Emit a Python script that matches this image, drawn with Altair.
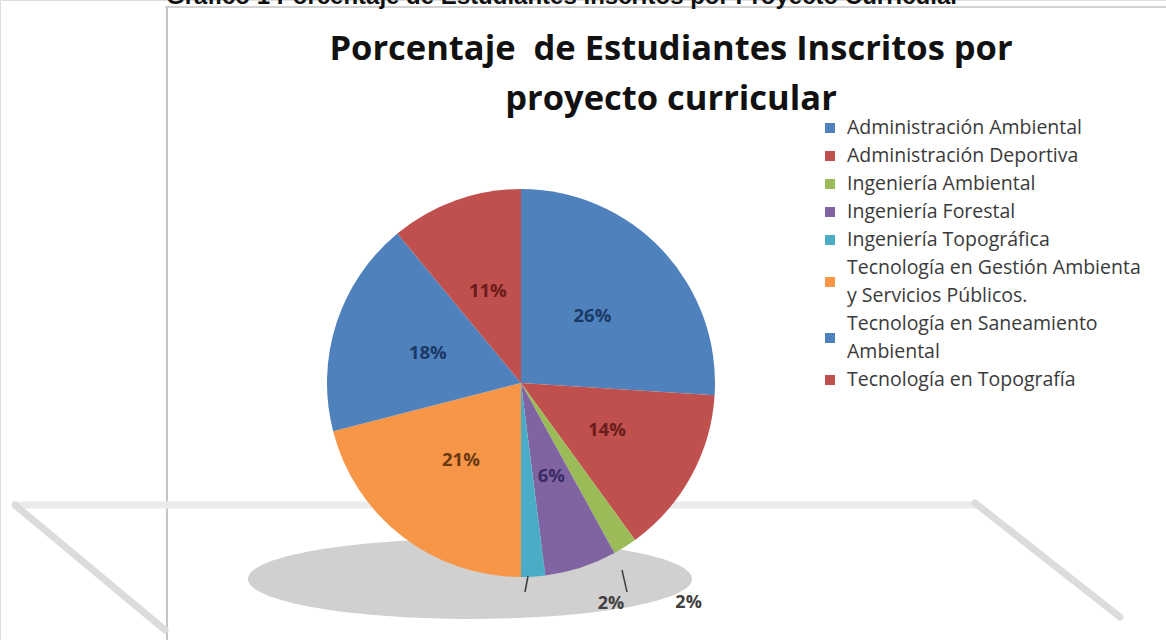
import altair as alt
import pandas as pd

# ---- data ----
categories = [
    "Administración Ambiental",
    "Administración Deportiva",
    "Ingeniería Ambiental",
    "Ingeniería Forestal",
    "Ingeniería Topográfica",
    "Tecnología en Gestión Ambienta y Servicios Públicos.",
    "Tecnología en Saneamiento Ambiental",
    "Tecnología en Topografía",
]
percentages = [26, 14, 2, 6, 2, 21, 18, 11]
slice_order = [1, 2, 3, 4, 5, 6, 7, 8]

# legend label wrapping as seen in the reference
legend_wraps = {
    "Tecnología en Gestión Ambienta y Servicios Públicos.": ["Tecnología en Gestión Ambienta", "y Servicios Públicos."],
    "Tecnología en Saneamiento Ambiental": ["Tecnología en Saneamiento", "Ambiental"],
}

palette = ["#4F81BD", "#C0504D", "#9BBB59", "#8064A2", "#4BACC6", "#F79646", "#4F81BD", "#C0504D"]
dark_palette = ["#1B3966", "#6A1C1A", "#4A5E22", "#3A2A62", "#1F5566", "#6A3A12", "#1B3966", "#6A1C1A"]

title_lines = "Porcentaje\u00a0 de Estudiantes Inscritos por\nproyecto curricular"
caption = "Gráfico 1 Porcentaje de Estudiantes Inscritos por Proyecto Curricular"

df = pd.DataFrame({"category": categories, "value": percentages, "order": slice_order})

# legend table: line-slot of first text line and of the symbol, derived from wrapping
leg_rows, slot = [], 0
for c in categories:
    lines = legend_wraps.get(c, [c])
    leg_rows.append({"category": c, "text": "\n".join(lines), "slot": slot,
                     "sym_slot": slot + (len(lines) - 1) / 2})
    slot += len(lines)
leg_df = pd.DataFrame(leg_rows)

W, H = 1166, 640
CX, CY, R = 521, 383, 194
FONT = "Open Sans"
LINE = 28
LEG_TOP = 128

color_scale = alt.Scale(domain=categories, range=palette)
base = alt.Chart(df)

# ---- decorations: frame, floor and shadow ----
deco = alt.Chart(pd.DataFrame({"k": [0]}))
frame_top = deco.mark_rule(color="#d2d2d2", strokeWidth=2).encode(
    x=alt.value(165), x2=alt.value(W), y=alt.value(7), y2=alt.value(7))
frame_left = deco.mark_rule(color="#c4c4c4", strokeWidth=2).encode(
    x=alt.value(167), x2=alt.value(167), y=alt.value(7), y2=alt.value(H))
floor_h = deco.mark_rule(color="#ebebeb", strokeWidth=7).encode(
    x=alt.value(13), x2=alt.value(977), y=alt.value(505), y2=alt.value(505))
floor_l = deco.mark_rule(color="#dcdcdc", strokeWidth=7, strokeCap="round").encode(
    x=alt.value(15), x2=alt.value(165), y=alt.value(505), y2=alt.value(630))
floor_r = deco.mark_rule(color="#dcdcdc", strokeWidth=7, strokeCap="round").encode(
    x=alt.value(975), x2=alt.value(1120), y=alt.value(503), y2=alt.value(617))
shadow = deco.mark_point(
    shape="M-1,0 A1,0.18 0 1,0 1,0 A1,0.18 0 1,0 -1,0 Z",
    filled=True, color="#d0d0d0", opacity=1, size=(2 * 222) ** 2,
).encode(x=alt.value(470), y=alt.value(579))

# ---- pie ----
pie = base.mark_arc(radius=R, stroke=None).encode(
    theta=alt.Theta("value:Q", stack=True),
    order=alt.Order("order:Q"),
    color=alt.Color("category:N", scale=color_scale, legend=None),
    x=alt.value(CX), y=alt.value(CY),
)

inside = base.transform_calculate(
    lbl="datum.value >= 5 ? datum.value + '%' : ''"
).mark_text(radius=98, font=FONT, fontSize=18.5, fontWeight="bold").encode(
    theta=alt.Theta("value:Q", stack=True),
    order=alt.Order("order:Q"),
    text="lbl:N",
    color=alt.Color("category:N", scale=alt.Scale(domain=categories, range=dark_palette), legend=None),
    x=alt.value(CX), y=alt.value(CY),
)

out_a = base.transform_calculate(
    lbl="datum.category == 'Ingeniería Ambiental' ? datum.value + '%' : ''"
).mark_text(radius=240, dx=39, dy=17, font=FONT, fontSize=18, fontWeight="bold", color="#404040").encode(
    theta=alt.Theta("value:Q", stack=True), order=alt.Order("order:Q"), text="lbl:N",
    x=alt.value(CX), y=alt.value(CY),
)
out_b = base.transform_calculate(
    lbl="datum.category == 'Ingeniería Topográfica' ? datum.value + '%' : ''"
).mark_text(radius=240, dx=75, dy=-19, font=FONT, fontSize=18, fontWeight="bold", color="#404040").encode(
    theta=alt.Theta("value:Q", stack=True), order=alt.Order("order:Q"), text="lbl:N",
    x=alt.value(CX), y=alt.value(CY),
)
lead1 = deco.mark_rule(color="#404040", strokeWidth=1.5).encode(
    x=alt.value(528), x2=alt.value(525), y=alt.value(576), y2=alt.value(592))
lead2 = deco.mark_rule(color="#404040", strokeWidth=1.5).encode(
    x=alt.value(622), x2=alt.value(627), y=alt.value(570), y2=alt.value(592))

# ---- legend (drawn as marks) ----
leg_scale = alt.Scale(domain=[0, 10], range=[LEG_TOP, LEG_TOP + 10 * LINE])
leg_sym = alt.Chart(leg_df).mark_square(size=100, opacity=1, filled=True).encode(
    x=alt.value(830), y=alt.Y("sym_slot:Q", scale=leg_scale, axis=None),
    color=alt.Color("category:N", scale=color_scale, legend=None),
)
leg_txt = alt.Chart(leg_df).mark_text(
    font=FONT, fontSize=19.5, color="#3a3a3a", align="left", baseline="middle",
    lineBreak="\n", lineHeight=LINE,
).encode(x=alt.value(847), y=alt.Y("slot:Q", scale=leg_scale, axis=None), text="text:N")

title = deco.mark_text(
    font=FONT, fontSize=34.5, fontWeight="bold", color="#111111",
    lineBreak="\n", lineHeight=50, baseline="middle", align="center",
).encode(x=alt.value(671), y=alt.value(50), text=alt.value(title_lines))

cap = deco.mark_text(
    font="Liberation Sans", fontSize=24, fontWeight="bold", color="#111111",
    align="left", baseline="alphabetic",
).encode(x=alt.value(166), y=alt.value(4), text=alt.value(caption))

chart = alt.layer(
    frame_top, frame_left, floor_h, floor_l, floor_r, shadow,
    pie, inside, out_a, out_b, lead1, lead2, leg_sym, leg_txt, title, cap,
).resolve_scale(color="independent").properties(
    width=W, height=H, autosize=alt.AutoSizeParams(type="none"), padding=0,
).configure_view(stroke=None).configure(background="white")

chart.save("out.html", embed_options={"renderer": "svg", "actions": False})
